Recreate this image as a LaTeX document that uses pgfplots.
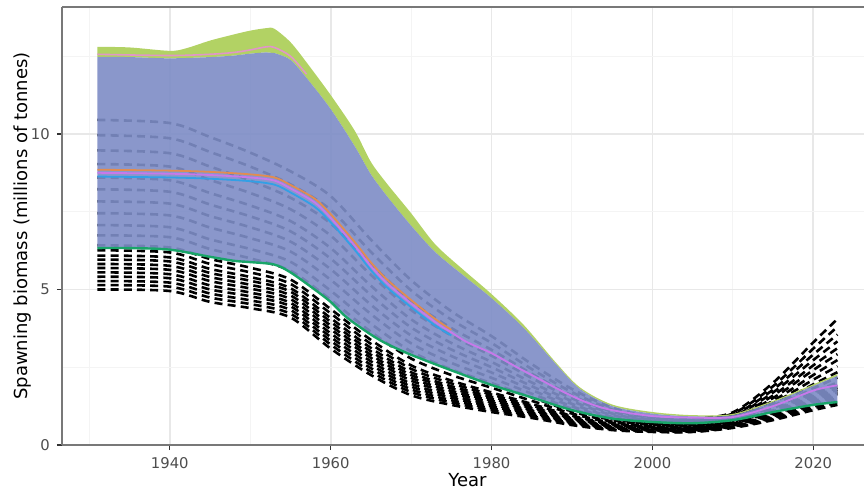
\documentclass[border=0pt]{standalone}
\usepackage{fontspec}
\setmainfont{DejaVu Sans}
\usepackage{pgfplots}
\pgfplotsset{compat=1.18}
\usepgfplotslibrary{fillbetween}
\usepackage{pgfplotstable}

\definecolor{ribbon}{RGB}{126,141,198}
\definecolor{greenband}{RGB}{178,210,100}
\definecolor{ticktext}{RGB}{77,77,77}
\definecolor{gridmaj}{RGB}{232,232,232}
\definecolor{gridmin}{RGB}{244,244,244}
\definecolor{frame}{RGB}{120,120,120}
\definecolor{lineorange}{RGB}{226,140,80}
\definecolor{linepink}{RGB}{200,120,235}
\definecolor{lineblue}{RGB}{50,160,230}
\definecolor{linegreen}{RGB}{25,165,105}
\definecolor{toppink}{RGB}{225,150,200}

% runs go on their own layer, under the ribbon fills (pre main)
\pgfdeclarelayer{runs}
\pgfplotsset{
  layers/withruns/.define layer set={
    axis background,axis grid,axis ticks,axis lines,axis tick labels,
    runs,pre main,main,axis descriptions,axis foreground
  }{/pgfplots/layers/standard},
}

% dashed model runs, one column per run
\pgfplotstableread{
yr   d1    d2    d3    d4    d5    d6    d7    d8    d9    d10   d11   d12   d13   d14   d15   d16   d17  d18  d19  d20  d21
1931 5.00  5.27  5.55  5.82  6.09  6.42  6.74  7.07  7.45  7.83  8.22  8.60  9.03  9.47  9.96  10.45 5.14 5.41 5.69 5.96 6.26
1940 4.95  5.22  5.49  5.76  6.03  6.35  6.68  7.00  7.38  7.76  8.14  8.51  8.95  9.38  9.86  10.35 5.09 5.36 5.63 5.90 6.19
1945 4.60  4.87  5.13  5.40  5.66  5.98  6.30  6.61  6.99  7.36  7.73  8.10  8.52  8.95  9.42  9.90  4.74 5.00 5.27 5.53 5.82
1950 4.40  4.65  4.90  5.15  5.40  5.70  6.00  6.30  6.65  7.00  7.35  7.70  8.10  8.50  8.95  9.40  4.53 4.78 5.03 5.28 5.55
1955 4.10  4.34  4.57  4.81  5.04  5.32  5.60  5.89  6.22  6.54  6.87  7.20  7.58  7.95  8.38  8.80  4.22 4.46 4.69 4.93 5.18
1960 3.10  3.35  3.59  3.84  4.08  4.37  4.67  4.96  5.31  5.65  5.99  6.33  6.73  7.12  7.56  8.00  3.23 3.47 3.72 3.96 4.23
1965 2.25  2.47  2.69  2.90  3.12  3.38  3.64  3.90  4.21  4.51  4.82  5.12  5.47  5.82  6.21  6.60  2.36 2.58 2.80 3.01 3.25
1970 1.60  1.79  1.97  2.16  2.34  2.56  2.78  3.01  3.27  3.52  3.78  4.04  4.34  4.63  4.97  5.30  1.70 1.88 2.07 2.25 2.45
1975 1.29  1.44  1.59  1.74  1.89  2.07  2.25  2.43  2.64  2.86  3.07  3.28  3.52  3.76  4.03  4.30  1.37 1.52 1.67 1.82 1.98
1980 1.06  1.18  1.30  1.43  1.55  1.69  1.84  1.99  2.16  2.33  2.50  2.67  2.87  3.06  3.28  3.50  1.12 1.24 1.37 1.49 1.62
1985 0.87  0.96  1.04  1.13  1.22  1.32  1.42  1.53  1.65  1.77  1.89  2.01  2.15  2.29  2.44  2.60  0.92 1.00 1.09 1.18 1.27
1990 0.64  0.70  0.76  0.81  0.87  0.94  1.01  1.08  1.16  1.24  1.32  1.41  1.50  1.59  1.70  1.80  0.67 0.73 0.79 0.84 0.91
1995 0.48  0.52  0.55  0.59  0.62  0.67  0.71  0.75  0.80  0.85  0.90  0.96  1.01  1.07  1.14  1.20  0.50 0.54 0.57 0.61 0.65
2000 0.42  0.44  0.47  0.49  0.52  0.54  0.57  0.60  0.64  0.67  0.70  0.74  0.78  0.81  0.86  0.90  0.43 0.46 0.48 0.51 0.53
2005 0.42  0.44  0.46  0.48  0.51  0.53  0.56  0.58  0.61  0.64  0.67  0.70  0.74  0.77  0.81  0.85  0.43 0.45 0.47 0.50 0.52
2010 0.55  0.58  0.60  0.63  0.65  0.68  0.71  0.74  0.78  0.81  0.85  0.88  0.92  0.96  1.01  1.05  0.57 0.59 0.62 0.64 0.67
2015 0.80  0.86  0.92  0.98  1.04  1.11  1.18  1.26  1.34  1.42  1.51  1.59  1.69  1.78  1.89  2.00  0.83 0.89 0.95 1.01 1.08
2020 1.12  1.23  1.34  1.45  1.56  1.69  1.82  1.95  2.10  2.25  2.41  2.56  2.73  2.91  3.10  3.30  1.18 1.29 1.40 1.51 1.63
2023 1.29  1.43  1.57  1.70  1.84  2.01  2.17  2.34  2.53  2.73  2.92  3.11  3.33  3.55  3.80  4.05  1.36 1.50 1.64 1.77 1.93
}\dashtab

\begin{document}
\begin{tikzpicture}
\begin{axis}[
  set layers=withruns,
  at={(0,0)}, anchor=south west,
  scale only axis, width=401pt, height=219pt,
  xmin=1926.6, xmax=2026.3, ymin=0, ymax=14.08,
  axis x line*=box, axis y line*=left,
  axis line style={draw=frame, line width=0.6pt},
  xtick={1940,1960,1980,2000,2020},
  ytick={0,5,10},
  minor xtick={1930,1950,1970,1990,2010},
  minor ytick={2.5,7.5,12.5},
  xtick pos=bottom, ytick pos=left,
  tick align=outside,
  major tick length=2.6pt, minor tick length=0pt,
  tick style={draw=black!80, line width=0.6pt},
  grid=both,
  major grid style={draw=gridmaj, line width=0.9pt},
  minor grid style={draw=gridmin, line width=0.5pt},
  /pgf/number format/assume math mode=true,
  /pgf/number format/1000 sep={},
  tick label style={font=\fontsize{7.4}{8}\selectfont, text=ticktext},
  label style={font=\fontsize{9}{10}\selectfont},
  xlabel={Year},
  xlabel style={at={(rel axis cs:0.5056,-0.081)}, anchor=center},
  ylabel={Spawning biomass (millions of tonnes)},
  ylabel style={at={(rel axis cs:-0.0493,0.5)}, anchor=center},
]

% model runs
\pgfplotsinvokeforeach{1,...,21}{
  \addplot[black, line width=1.3pt, dash pattern=on 4pt off 2.6pt, smooth, on layer=runs]
    table[x=yr, y=d#1] {\dashtab};
}

% envelope curves
\addplot[draw=none, smooth, name path=G] coordinates {
 (1931,12.80)(1935,12.78)(1940,12.67)(1942,12.75)(1945,13.00)(1948,13.20)
 (1950,13.32)(1952,13.40)(1953,13.38)(1955,12.95)(1957,12.30)(1960,11.25)
 (1963,10.10)(1965,9.10)(1967,8.40)(1970,7.45)(1973,6.45)(1976.5,5.63)
 (1980,4.85)(1984,3.86)(1988,2.65)(1991,1.85)(1995,1.30)(2000,1.06)
 (2005,0.96)(2010,1.00)(2015,1.42)(2020,1.95)(2023,2.28)};
\addplot[draw=none, smooth, name path=P] coordinates {
 (1931,12.48)(1935,12.47)(1940,12.43)(1945,12.47)(1948,12.52)(1950,12.58)
 (1952,12.62)(1953,12.60)(1955,12.38)(1957,11.80)(1960,10.80)(1963,9.60)
 (1965,8.70)(1967,8.00)(1970,7.05)(1973,6.20)(1976.5,5.45)(1980,4.72)
 (1984,3.76)(1988,2.60)(1991,1.80)(1995,1.25)(2000,1.01)(2005,0.92)
 (2010,0.96)(2015,1.38)(2020,1.90)(2023,2.22)};
\addplot[draw=none, smooth, name path=B] coordinates {
 (1931,6.33)(1935,6.33)(1940,6.28)(1945,6.05)(1948,5.92)(1950,5.88)
 (1953,5.80)(1955,5.55)(1958,5.00)(1960,4.60)(1962,4.10)(1965,3.55)
 (1967,3.25)(1970,2.90)(1975,2.40)(1980,1.93)(1985,1.53)(1990,1.12)
 (1995,0.85)(2000,0.74)(2005,0.70)(2010,0.80)(2015,1.06)(2020,1.29)(2023,1.38)};

\addplot[greenband] fill between[of=G and P];
\addplot[ribbon, fill opacity=0.91] fill between[of=P and B];

% coloured run lines
\addplot[linegreen, line width=1.2pt, smooth] coordinates {
 (1931,6.33)(1935,6.33)(1940,6.28)(1945,6.05)(1948,5.92)(1950,5.88)
 (1953,5.80)(1955,5.55)(1958,5.00)(1960,4.60)(1962,4.10)(1965,3.55)
 (1967,3.25)(1970,2.90)(1975,2.40)(1980,1.93)(1985,1.53)(1990,1.12)
 (1995,0.85)(2000,0.74)(2005,0.70)(2010,0.80)(2015,1.06)(2020,1.29)(2023,1.38)};
\addplot[toppink, line width=0.8pt, smooth] coordinates {
 (1931,12.56)(1940,12.52)(1945,12.56)(1948,12.62)(1950,12.70)(1952,12.80)
 (1953,12.78)(1955,12.50)(1957,11.92)};
\addplot[lineorange, line width=0.9pt, smooth] coordinates {
 (1931,8.85)(1940,8.82)(1945,8.78)(1950,8.70)(1953,8.60)(1955,8.36)(1958,7.92)
 (1960,7.42)(1963,6.52)(1965,5.87)(1967,5.32)(1970,4.66)(1973,4.05)(1975,3.70)};
\addplot[lineblue, line width=0.9pt, smooth] coordinates {
 (1931,8.63)(1940,8.60)(1945,8.56)(1950,8.48)(1953,8.37)(1955,8.12)(1958,7.66)
 (1960,7.16)(1963,6.27)(1965,5.62)(1967,5.07)(1970,4.43)(1973,3.84)(1975,3.52)};
\addplot[linepink, line width=0.9pt, smooth] coordinates {
 (1931,8.75)(1940,8.72)(1945,8.68)(1950,8.60)(1953,8.50)(1955,8.25)(1958,7.80)
 (1960,7.30)(1963,6.40)(1965,5.75)(1967,5.20)(1970,4.55)(1973,3.95)(1975,3.62)
 (1977,3.30)(1980,2.95)(1983,2.52)(1985,2.25)(1989,1.70)(1992,1.35)(1995,1.12)
 (2000,0.93)(2005,0.88)(2010,0.90)(2015,1.25)(2020,1.75)(2023,1.92)};
\end{axis}
\pgfresetboundingbox
\useasboundingbox (-31pt,-24.5pt) rectangle (401pt,222.5pt);
\end{tikzpicture}
\end{document}
